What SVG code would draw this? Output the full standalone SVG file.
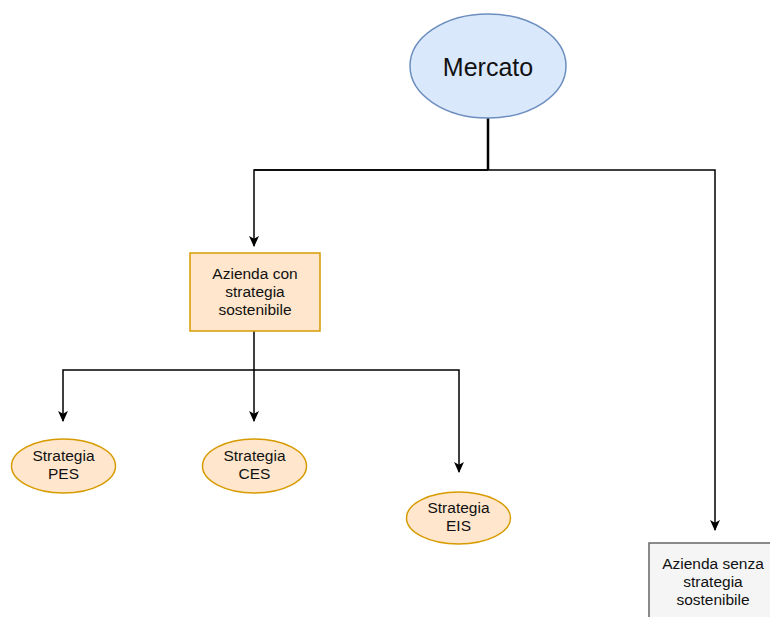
<svg xmlns="http://www.w3.org/2000/svg" width="770" height="617" viewBox="0 0 770 617">
<style>
text{font-family:"Liberation Sans",Arial,sans-serif;fill:#111;text-anchor:middle}
.t{font-size:15.5px}
.c{fill:none;stroke:#000;stroke-width:1.5}
.o{fill:#ffe6cc;stroke:#d79b00;stroke-width:1.5}
</style>
<defs>
<marker id="a" viewBox="0 0 10 10" refX="9" refY="5" markerWidth="11" markerHeight="11" markerUnits="userSpaceOnUse" orient="auto">
<path d="M0,0.5L10,5L0,9.5L2.5,5z" fill="#000"/>
</marker>
</defs>
<rect width="770" height="617" fill="#fff"/>
<g id="connectors">
<path d="M488,118V170" fill="none" stroke="#000" stroke-width="2.5"/>
<path class="c" d="M254,170H488H715V530" marker-end="url(#a)"/>
<path class="c" d="M488,170H254V246" marker-end="url(#a)"/>
<path class="c" d="M254,331V370H63V421" marker-end="url(#a)"/>
<path class="c" d="M254,370V421" marker-end="url(#a)"/>
<path class="c" d="M254,370H459V472" marker-end="url(#a)"/>
</g>
<g id="mercato">
<ellipse cx="488" cy="66" rx="78" ry="52" fill="#dae8fc" stroke="#6c8ebf" stroke-width="1.5"/>
<text x="488" y="76" font-size="25">Mercato</text>
</g>
<g id="azienda-con">
<rect x="190" y="253" width="130" height="78" class="o"/>
<text class="t" x="255" y="279">Azienda con</text>
<text class="t" x="255" y="297">strategia</text>
<text class="t" x="255" y="315">sostenibile</text>
</g>
<g id="pes">
<ellipse cx="63.5" cy="466" rx="52" ry="27" class="o"/>
<text class="t" x="63.5" y="461">Strategia</text>
<text class="t" x="63.5" y="479">PES</text>
</g>
<g id="ces">
<ellipse cx="254.5" cy="466" rx="52" ry="27" class="o"/>
<text class="t" x="254.5" y="461">Strategia</text>
<text class="t" x="254.5" y="479">CES</text>
</g>
<g id="eis">
<ellipse cx="458.5" cy="518" rx="52" ry="26" class="o"/>
<text class="t" x="458.5" y="513">Strategia</text>
<text class="t" x="458.5" y="531">EIS</text>
</g>
<g id="azienda-senza">
<rect x="649" y="543" width="130" height="80" fill="#f5f5f5" stroke="#666" stroke-width="1.5"/>
<text class="t" x="713" y="569">Azienda senza</text>
<text class="t" x="713" y="587">strategia</text>
<text class="t" x="713" y="605">sostenibile</text>
</g>
</svg>
